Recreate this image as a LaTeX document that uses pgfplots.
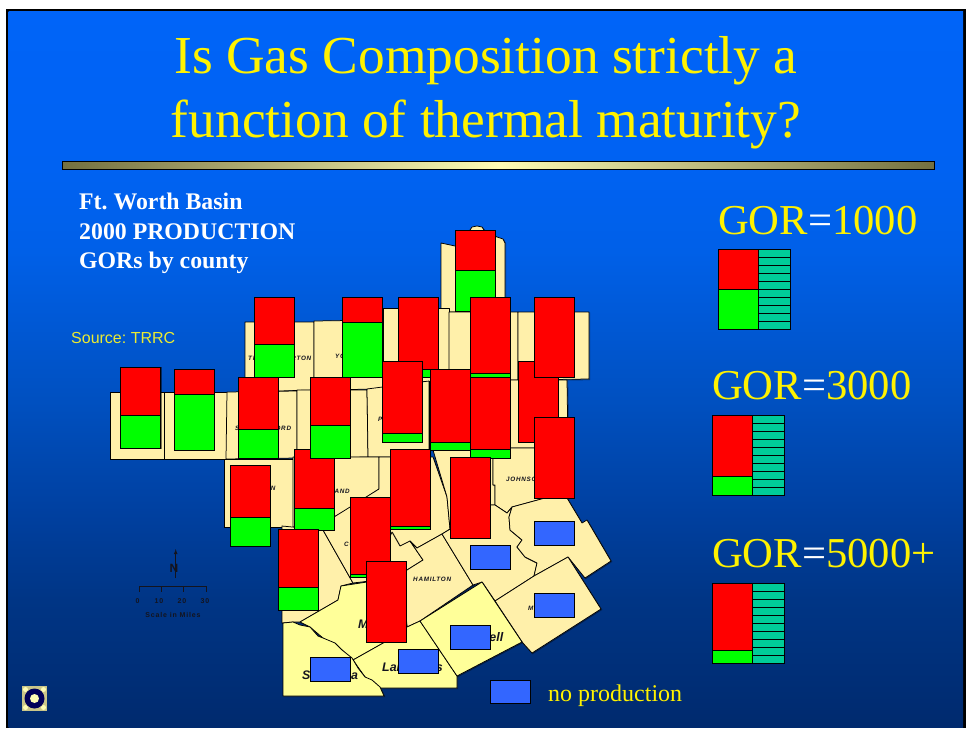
\documentclass[border=0pt]{standalone}
\usepackage{fontspec}
\setmainfont{Liberation Serif}
\setsansfont{Liberation Sans}
\newfontfamily\labf[LetterSpace=12]{Liberation Sans}
\frenchspacing
\usepackage{pgfplots}
\pgfplotsset{compat=1.18}
\definecolor{cA}{RGB}{0,42,110}
\definecolor{cB}{RGB}{0,53,133}
\definecolor{cC}{RGB}{0,64,160}
\definecolor{cD}{RGB}{0,80,192}
\definecolor{cE}{RGB}{0,96,232}
\definecolor{cF}{RGB}{0,98,242}
\definecolor{cG}{RGB}{0,100,248}
\pgfdeclareverticalshading{slidebg}{100bp}{color(0bp)=(cA); color(25bp)=(cA); color(33.85bp)=(cB); color(40bp)=(cC); color(47.75bp)=(cD); color(58.25bp)=(cE); color(64bp)=(cF); color(75bp)=(cG); color(100bp)=(cG)}
\definecolor{cream}{RGB}{255,240,170}
\definecolor{pale}{RGB}{255,255,153}
\definecolor{tealx}{RGB}{0,204,153}
\definecolor{bluex}{RGB}{51,102,255}
\definecolor{srcy}{RGB}{235,235,50}
\definecolor{oliv}{RGB}{115,112,64}
\definecolor{lite}{RGB}{254,252,180}
\definecolor{ink}{RGB}{20,20,30}
\newcommand{\cty}[2]{%
  \addplot[draw=black,opacity=.4,line width=.9pt,xshift=.7pt,yshift=-.7pt] coordinates {#2} --cycle;
  \addplot[fill=#1,draw=black,line width=.75pt,line join=round] coordinates {#2} --cycle;}
% x0 x1 top split bottom
\newcommand{\rg}[5]{%
  \addplot[draw=black,opacity=.5,line width=1pt,xshift=.8pt,yshift=-.8pt] coordinates {(#1,#3)(#2,#3)(#2,#5)(#1,#5)} --cycle;
  \addplot[fill=green,draw=black,line width=.9pt] coordinates {(#1,#4)(#2,#4)(#2,#5)(#1,#5)} --cycle;
  \addplot[fill=red,draw=black,line width=.9pt] coordinates {(#1,#3)(#2,#3)(#2,#4)(#1,#4)} --cycle;}
\newcommand{\bl}[4]{%
  \addplot[draw=black,opacity=.5,line width=1pt,xshift=.8pt,yshift=-.8pt] coordinates {(#1,#3)(#2,#3)(#2,#4)(#1,#4)} --cycle;
  \addplot[fill=bluex,draw=black,line width=.9pt] coordinates {(#1,#3)(#2,#3)(#2,#4)(#1,#4)} --cycle;}
\newcommand{\tl}[4]{\addplot[fill=tealx,draw=black,line width=.9pt] coordinates {(#1,#3)(#2,#3)(#2,#4)(#1,#4)} --cycle;}
\newcommand{\lab}[3]{\node[anchor=base west,inner sep=0pt,text=ink,font=\labf\bfseries\itshape\fontsize{6.3}{7}\selectfont] at (axis cs:#1,#2) {#3};}
\newcommand{\labb}[3]{\node[anchor=base west,inner sep=0pt,text=ink,font=\sffamily\bfseries\itshape\fontsize{12.4}{14}\selectfont] at (axis cs:#1,#2) {#3};}
\newcommand{\txt}[5]{\node[anchor=base west,inner sep=0pt,text=#4,font=#5] at (axis cs:#1,#2) {#3};}
\begin{document}
\begin{tikzpicture}
\begin{axis}[x=1pt,y=1pt,xmin=0,xmax=966,ymin=0,ymax=728,y dir=reverse,hide axis,clip=true]
% slide
\fill[white] (axis cs:0,0) rectangle (axis cs:966,728);
\fill[black] (axis cs:6,9) rectangle (axis cs:966,728);
\shade[shading=slidebg] (axis cs:8.5,11.5) rectangle (axis cs:963,727);
% title
\node[anchor=base,inner sep=0pt,text=yellow,font=\fontsize{53.4}{60}\selectfont] at (axis cs:486,73) {Is Gas Composition strictly a};
\node[anchor=base,inner sep=0pt,text=yellow,font=\fontsize{53.4}{60}\selectfont] at (axis cs:486,137) {function of thermal maturity?};
% rule
\shade[left color=oliv,right color=oliv,middle color=lite,draw=black,line width=1pt] (axis cs:62,161.5) rectangle (axis cs:934,169);
% captions
\txt{79}{209}{Ft. Worth Basin}{white}{\bfseries\fontsize{23.8}{24}\selectfont}
\txt{79}{239}{2000 PRODUCTION}{white}{\bfseries\fontsize{23.8}{24}\selectfont}
\txt{79}{268}{GORs by county}{white}{\bfseries\fontsize{23.8}{24}\selectfont}
\txt{71}{343}{Source: TRRC}{srcy}{\sffamily\fontsize{16}{18}\selectfont}
% counties
\cty{cream}{(441,243)(455,246)(470,243)(470,230)(472,227)(477,226)(482,227)(484,230)(497,237)(503,239)(505,243)(505,297)(506,312)(441,312)}
\cty{cream}{(245,322)(314,322)(314,390)(245,392)}
\cty{cream}{(314,321)(383,320)(383,389)(314,390)}
\cty{cream}{(383,308)(449,308)(449,381)(383,381)}
\cty{cream}{(449,312)(518,312)(518,380)(449,381)}
\cty{cream}{(518,312)(589,312)(589,379)(518,380)}
\cty{cream}{(110,392)(164,392)(164,459)(110,459)}
\cty{cream}{(164,392)(227,392)(227,459)(164,459)}
\cty{cream}{(227,392)(297,391)(297,458)(226,459)}
\cty{cream}{(297,390)(367,390)(368,457)(297,458)}
\cty{cream}{(367,389)(429,381)(429,457)(368,457)}
\cty{cream}{(429,381)(510,381)(510,450)(429,450)}
\cty{cream}{(510,380)(567,380)(568,448)(510,448)}
\cty{cream}{(224,459)(293,459)(293,527)(224,527)}
\cty{cream}{(293,457)(379,457)(379,489)(350,508)(334,517)(323,530)(293,527)}
\cty{cream}{(282,526)(323,530)(353,583)(341,586)(338,600)(300,622)(293,622)(282,623)}
\cty{cream}{(323,530)(334,517)(379,489)(379,457)(433,457)(447,497)(450,529)(442,534)(417,548)(407,569)(395,578)(353,583)}
\cty{cream}{(433,450)(493,450)(493,485)(495,485)(495,505)(490,505)(450,529)(447,497)}
\cty{cream}{(493,448)(567,448)(567,498)(545,498)(512,507)(507,513)(495,505)(495,485)(493,485)}
\cty{cream}{(392,532)(400,546)(410,541)(423,560)(407,570)(395,578)(380,560)}
\cty{cream}{(423,560)(410,541)(417,548)(442,534)(473,585)(420,621)(407,627)(398,578)(407,570)}
\cty{cream}{(442,534)(490,505)(495,505)(507,513)(512,507)(509,517)(510,530)(522,540)(517,547)(525,557)(537,563)(534,576)(495,601)(482,582)(473,585)}
\cty{cream}{(512,507)(545,498)(567,498)(582,523)(587,520)(611,561)(585,578)(568,557)(534,576)(537,563)(525,557)(517,547)(522,540)(510,530)(509,517)}
\cty{cream}{(495,601)(534,576)(568,557)(601,609)(532,653)(522,642)}
\cty{pale}{(300,622)(338,600)(341,586)(367,582)(398,578)(407,627)(385,642)(353,660)(342,650)(336,647)(323,638)(310,627)}
\cty{pale}{(353,660)(385,642)(407,627)(420,621)(457,676)(457,688)(380,688)(365,677)}
\cty{pale}{(283,623)(293,622)(300,625)(310,627)(318,636)(323,638)(335,643)(342,650)(352,658)(358,668)(365,677)(372,680)(380,687)(384,696)(283,696)}
\cty{pale}{(482,582)(522,642)(457,676)(420,621)}
% labels
\lab{248}{360}{THROCKMORTON}
\lab{335}{358}{YOUNG}
\lab{235}{430}{SHACKELFORD}
\lab{310}{425}{STEPHENS}
\lab{378}{421}{PALO PINTO}
\lab{235}{490}{CALLAHAN}
\lab{310}{493}{EASTLAND}
\lab{344}{546}{COMANCHE}
\lab{506}{481}{JOHNSON}
\lab{413}{581}{HAMILTON}
\lab{528}{610}{McLENNAN}
\labb{358}{628}{Mills}
\labb{382}{671}{Lampasas}
\labb{302}{679}{San Saba}
\labb{461}{641}{Coryell}
% production bars
\rg{455}{495}{230}{270}{311}
\rg{120.5}{160.5}{367}{415}{448}
\rg{174}{214}{369}{394}{450}
\rg{254}{294}{297}{344}{377}
\rg{342}{382}{297}{322}{377}
\rg{238}{278}{377}{429}{458}
\rg{294}{334}{449}{508}{530}
\rg{310}{350}{377}{425}{458}
\rg{398}{438}{297}{369}{377}
\rg{382}{422}{361}{433}{442}
\rg{430}{470}{369}{442}{450}
\rg{470}{510}{297}{373}{377}
\rg{470}{510}{377}{449}{458}
\rg{518}{558}{361}{442}{442}
\rg{534}{574}{297}{377}{377}
\rg{534}{574}{417}{498}{498}
\rg{230}{270}{465}{517}{546}
\rg{278}{318}{529}{587}{610}
\rg{390}{430}{449}{526}{529}
\rg{350}{390}{497}{574}{577}
\rg{366}{406}{561}{642}{642}
\rg{450}{490}{457}{538}{538}
\bl{534}{574}{521}{545}
\bl{470}{510}{545}{569}
\bl{534}{574}{593}{617}
\bl{450}{490}{625}{649}
\bl{398}{438}{649}{673}
\bl{310}{350}{657}{681}
\bl{490}{530}{680}{703}
\txt{548}{701}{no production}{yellow}{\fontsize{24}{26}\selectfont}
% right key
\node[anchor=base west,inner sep=0pt,text=yellow,font=\fontsize{42.6}{44}\selectfont] at (axis cs:718,234) {GOR\textcolor{white}{=}1000};
\node[anchor=base west,inner sep=0pt,text=yellow,font=\fontsize{42.6}{44}\selectfont] at (axis cs:712,399) {GOR\textcolor{white}{=}3000};
\node[anchor=base west,inner sep=0pt,text=yellow,font=\fontsize{42.6}{44}\selectfont] at (axis cs:712,567) {GOR\textcolor{white}{=}5000+};
\tl{758}{790}{249}{257}\tl{758}{790}{257}{265}\tl{758}{790}{265}{273}\tl{758}{790}{273}{281}\tl{758}{790}{281}{289}
\tl{758}{790}{289}{297}\tl{758}{790}{297}{305}\tl{758}{790}{305}{313}\tl{758}{790}{313}{321}\tl{758}{790}{321}{329}
\rg{718}{758}{249}{289}{329}
\tl{752}{784}{415}{423}\tl{752}{784}{423}{431}\tl{752}{784}{431}{439}\tl{752}{784}{439}{447}\tl{752}{784}{447}{455}
\tl{752}{784}{455}{463}\tl{752}{784}{463}{471}\tl{752}{784}{471}{479}\tl{752}{784}{479}{487}\tl{752}{784}{487}{495}
\rg{712}{752}{415}{476}{495}
\tl{752}{784}{583}{591}\tl{752}{784}{591}{599}\tl{752}{784}{599}{607}\tl{752}{784}{607}{615}\tl{752}{784}{615}{623}
\tl{752}{784}{623}{631}\tl{752}{784}{631}{639}\tl{752}{784}{639}{647}\tl{752}{784}{647}{655}\tl{752}{784}{655}{663}
\rg{712}{752}{583}{650}{663}
% north arrow and scale
\addplot[draw=ink,line width=.8pt,-latex] coordinates {(175.7,578)(175.7,549)};
\node[inner sep=0pt,text=ink,font=\sffamily\bfseries\fontsize{12}{12}\selectfont] at (axis cs:174,568) {N};
\addplot[draw=ink,line width=.8pt] coordinates {(139.5,592)(139.5,586.7)(206,586.7)(206,592)};
\addplot[draw=ink,line width=.8pt] coordinates {(161,586.7)(161,592)};
\addplot[draw=ink,line width=.8pt] coordinates {(183.5,586.7)(183.5,592)};
\node[text=ink,inner sep=0pt,font=\labf\bfseries\fontsize{7}{8}\selectfont] at (axis cs:137.5,601) {0};
\node[text=ink,inner sep=0pt,font=\labf\bfseries\fontsize{7}{8}\selectfont] at (axis cs:159,601) {10};
\node[text=ink,inner sep=0pt,font=\labf\bfseries\fontsize{7}{8}\selectfont] at (axis cs:182,601) {20};
\node[text=ink,inner sep=0pt,font=\labf\bfseries\fontsize{7}{8}\selectfont] at (axis cs:205,601) {30};
\node[text=ink,inner sep=0pt,font=\labf\bfseries\fontsize{7}{8}\selectfont] at (axis cs:173,615) {Scale in Miles};
% icon
\fill[gray!60!yellow!80!white] (axis cs:22,686) rectangle (axis cs:47,711);
\foreach \a/\b in {25.5/689.5,43.5/689.5,25.5/707.5,43.5/707.5}{\edef\tmp{\noexpand\fill[lite] (axis cs:\a,\b) circle[radius=2.5pt];}\tmp}
\fill[black!30!blue!50!black] (axis cs:34.5,698.5) circle[radius=10pt];
\fill[lite] (axis cs:34.5,698.5) circle[radius=4.5pt];
\end{axis}
\end{tikzpicture}
\end{document}
